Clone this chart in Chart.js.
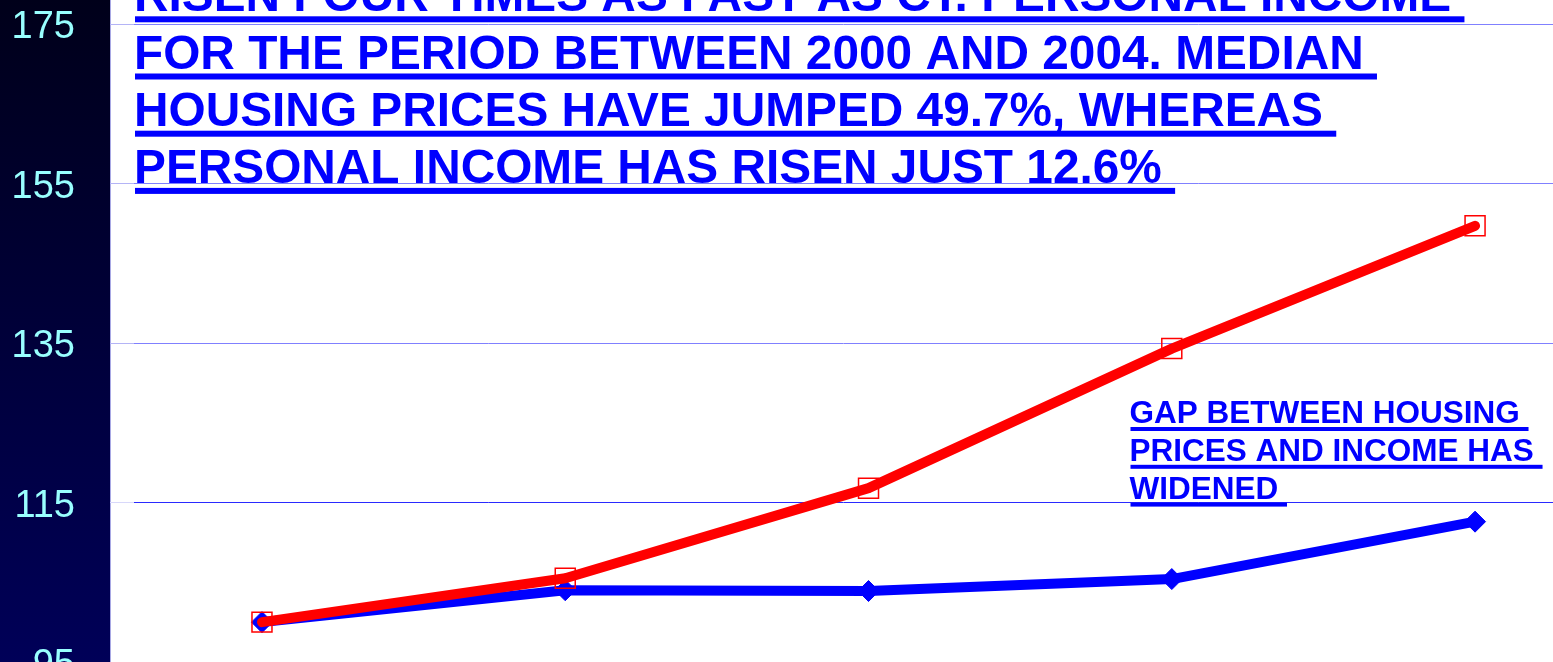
<!DOCTYPE html>
<html>
<head>
<meta charset="utf-8">
<title>Housing prices vs personal income</title>
<script src="https://cdn.jsdelivr.net/npm/chart.js@4/dist/chart.umd.min.js"></script>
<style>
    html, body { margin: 0; padding: 0; background: #ffffff; overflow: hidden; }
    #wrap { position: relative; width: 1553px; height: 662px; }
</style>
</head>
<body>
<div id="wrap"><canvas id="gapChart"></canvas></div>
<script>
// Years on the x axis (axis itself is not shown in the picture)
const years = [2000, 2001, 2002, 2003, 2004];

// Index values, 2000 = 100
const housingIndex = [100, 105.5, 116.8, 134.3, 149.7];
const incomeIndex = [100, 104.0, 103.9, 105.4, 112.6];

// Y axis tick labels
const yTicks = [95, 115, 135, 155, 175];

// Text blocks
const titleLines = [
    'RISEN FOUR TIMES AS FAST AS CT. PERSONAL INCOME',
    'FOR THE PERIOD BETWEEN 2000 AND 2004. MEDIAN',
    'HOUSING PRICES HAVE JUMPED 49.7%, WHEREAS',
    'PERSONAL INCOME HAS RISEN JUST 12.6%'
];
const noteLines = [
    'GAP BETWEEN HOUSING',
    'PRICES AND INCOME HAS',
    'WIDENED'
];

const FONT = '"Liberation Sans", Arial, sans-serif';
const PANEL_W = 110;

// Draws a block of bold underlined text
function drawUnderlined(ctx, lines, x, firstBase, lineGap, size, lineOff, lineH) {
    ctx.save();
    ctx.font = 'bold ' + size + 'px ' + FONT;
    ctx.fillStyle = '#0000FF';
    ctx.textAlign = 'left';
    ctx.textBaseline = 'alphabetic';
    lines.forEach((line, i) => {
        const base = firstBase + i * lineGap;
        ctx.fillText(line, x, base);
        const w = ctx.measureText(line + ' ').width;
        ctx.fillRect(x + 1, base + lineOff, w - 1, lineH);
    });
    ctx.restore();
}

const backdrop = {
    id: 'backdrop',
    beforeDraw(chart) {
        const ctx = chart.ctx;
        const h = chart.height;
        ctx.save();
        ctx.fillStyle = '#ffffff';
        ctx.fillRect(0, 0, chart.width, h);
        const grad = ctx.createLinearGradient(0, 0, 0, h);
        grad.addColorStop(0, '#00001A');
        grad.addColorStop(1, '#000058');
        ctx.fillStyle = grad;
        ctx.fillRect(0, 0, PANEL_W, h);
        ctx.fillStyle = '#A8A8E4';
        ctx.fillRect(PANEL_W, 0, 1, h);
        ctx.restore();
    },
    afterDraw(chart) {
        const ctx = chart.ctx;
        drawUnderlined(ctx, titleLines, 134, 11.3, 57.2, 47.8, 5, 6);
        drawUnderlined(ctx, noteLines, 1129.5, 423, 37.8, 31.5, 4, 4);
    }
};

const ctx = document.getElementById('gapChart').getContext('2d');
const gapChart = new Chart(ctx, {
    type: 'line',
    data: {
        datasets: [
            {
                label: 'Median housing price',
                data: years.map((yr, i) => ({ x: yr, y: housingIndex[i] })),
                borderColor: '#FF0000',
                borderWidth: 10,
                borderCapStyle: 'round',
                borderJoinStyle: 'round',
                pointStyle: 'rect',
                pointRadius: 14.14,
                pointBorderWidth: 1.5,
                pointBorderColor: '#FF0000',
                pointBackgroundColor: 'rgba(0,0,0,0)',
                tension: 0,
                clip: false
            },
            {
                label: 'Personal income',
                data: years.map((yr, i) => ({ x: yr, y: incomeIndex[i] })),
                borderColor: '#0000FF',
                borderWidth: 10,
                borderCapStyle: 'round',
                borderJoinStyle: 'round',
                pointStyle: 'rectRot',
                pointRadius: 10.5,
                pointBorderWidth: 1,
                pointBorderColor: '#0000FF',
                pointBackgroundColor: '#0000FF',
                tension: 0,
                clip: false
            }
        ]
    },
    options: {
        responsive: true,
        maintainAspectRatio: false,
        animation: false,
        layout: { padding: 0, autoPadding: false },
        plugins: {
            legend: { display: false },
            title: { display: false },
            tooltip: { enabled: false }
        },
        scales: {
            x: {
                type: 'linear',
                display: false,
                min: 1999.578,
                max: 2004.257
            },
            y: {
                type: 'linear',
                min: 95,
                max: 178.01,
                afterBuildTicks: scale => {
                    scale.ticks = yTicks.map(v => ({ value: v }));
                },
                afterFit: scale => {
                    scale.width = 134;
                    scale.paddingTop = 0;
                    scale.paddingBottom = 0;
                },
                border: { display: false },
                grid: {
                    lineWidth: 1,
                    tickLength: 24,
                    color: c => (c.tick && c.tick.value === 115) ? '#2A2AFF' : '#8080FF',
                    tickColor: c => (c.tick && c.tick.value === 115) ? '#D8D8FA' : '#B4B4F6'
                },
                ticks: {
                    padding: 35,
                    labelOffset: 4,
                    color: '#99FFFF',
                    font: { family: FONT, size: 38 }
                }
            }
        }
    },
    plugins: [backdrop]
});
</script>
</body>
</html>
